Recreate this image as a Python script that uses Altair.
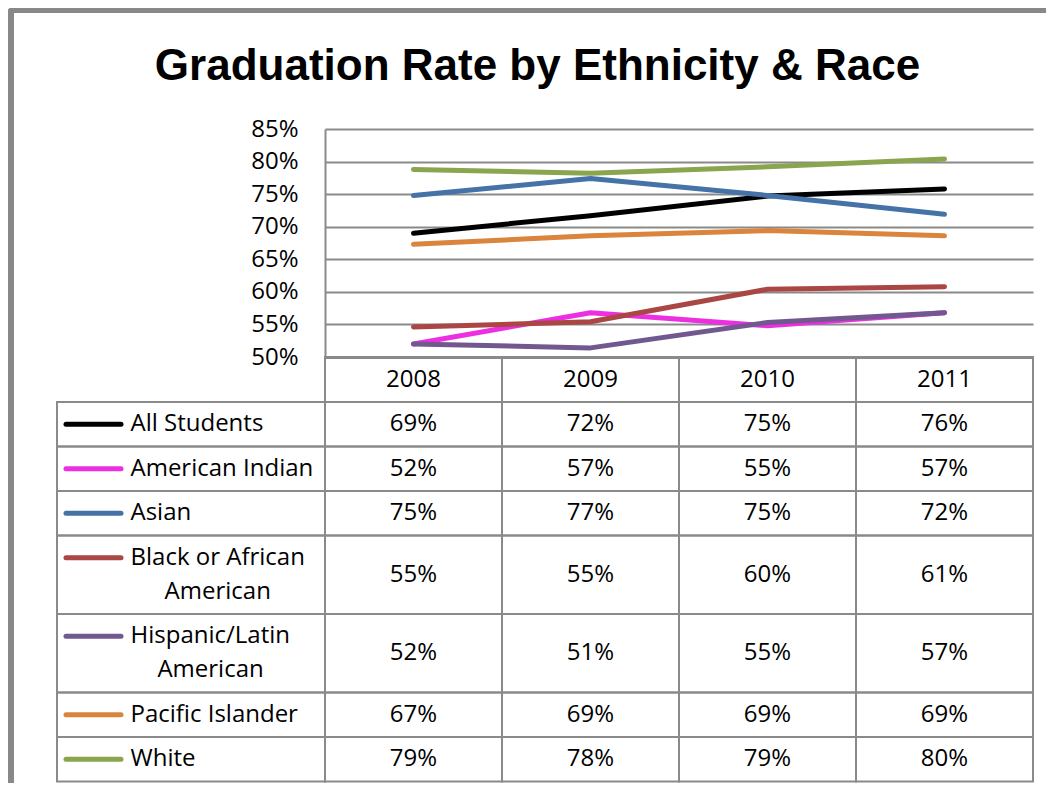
import altair as alt
import pandas as pd

# ---------------- data ----------------
TITLE = "Graduation Rate by Ethnicity & Race"
YEARS = ["2008", "2009", "2010", "2011"]
GROUPS = ["All Students", "American Indian", "Asian", "Black or African American",
          "Hispanic/Latin American", "Pacific Islander", "White"]
LABEL_LINES = [["All Students"], ["American Indian"], ["Asian"],
               ["Black or African", "American"], ["Hispanic/Latin", "American"],
               ["Pacific Islander"], ["White"]]
COLORS = ["#000000", "#EC2FE0", "#4572A7", "#AA4643", "#71588F", "#DB843D", "#89A54E"]

ALL_STUDENTS = [0.690, 0.717, 0.747, 0.758]
AMERICAN_INDIAN = [0.520, 0.568, 0.548, 0.568]
ASIAN = [0.748, 0.774, 0.748, 0.719]
BLACK = [0.546, 0.554, 0.604, 0.608]
HISPANIC = [0.520, 0.514, 0.553, 0.568]
PACIFIC = [0.673, 0.686, 0.694, 0.686]
WHITE = [0.788, 0.782, 0.792, 0.804]
SERIES = [ALL_STUDENTS, AMERICAN_INDIAN, ASIAN, BLACK, HISPANIC, PACIFIC, WHITE]
Y_TICKS = [0.50, 0.55, 0.60, 0.65, 0.70, 0.75, 0.80, 0.85]

# ---------------- layout / style ----------------
FONT = "Open Sans"
FS = 24
GRID = "#8a8a8a"
FRAME = "#888888"
PLOT_W, PLOT_H = 708, 228
LABEL_W = 268
HEADER_H = 45
LINE_H = 34
ROW_PAD = 10.5
TEXT_X = 73.5

OS_W = {" ": 532, "/": 752, "A": 1296, "B": 1327, "H": 1511, "L": 1124, "a": 1139,
        "b": 1255, "c": 975, "d": 1255, "e": 1149, "f": 694, "h": 1257, "i": 518,
        "k": 1075, "l": 518, "n": 1257, "o": 1237, "p": 1255, "r": 836, "s": 977,
        "t": 723}


def text_width(s, size):
    return sum(OS_W.get(ch, 1150) for ch in s) / 2048 * size


color_scale = alt.Scale(domain=GROUPS, range=COLORS)

# line data
line_rows = []
for g, vals in zip(GROUPS, SERIES):
    for yr, v in zip(YEARS, vals):
        line_rows.append({"group": g, "year": yr, "value": v})
line_df = pd.DataFrame(line_rows)

# table rows
rows = []
cont = []
y = HEADER_H
for g, lines in zip(GROUPS, LABEL_LINES):
    h = len(lines) * LINE_H + ROW_PAD
    ym = y + h / 2
    first_y = ym - (len(lines) - 1) * LINE_H / 2
    rows.append({"group": g, "y0": y, "y1": y + h, "ym": ym, "first": lines[0], "sy": first_y})
    for k, extra in enumerate(lines[1:], start=1):
        cont.append({"group": g, "text": extra, "cy": first_y + k * LINE_H,
                     "cx": TEXT_X + text_width(lines[0], FS) / 2})
    y += h
TABLE_H = y
rows_df = pd.DataFrame(rows)
cont_df = pd.DataFrame(cont)

header_df = pd.DataFrame([{"year": yr, "y0": 0, "y1": HEADER_H, "ym": HEADER_H / 2} for yr in YEARS])
value_rows = []
for r, vals in zip(rows, SERIES):
    for yr, v in zip(YEARS, vals):
        value_rows.append({"group": r["group"], "year": yr, "value": v,
                           "y0": r["y0"], "y1": r["y1"], "ym": r["ym"]})
value_df = pd.DataFrame(value_rows)
cells_df = pd.concat([header_df, value_df[["year", "y0", "y1", "ym"]]], ignore_index=True)

# ---------------- panel A: frame (decoration) ----------------
dummy = pd.DataFrame({"k": [0]})
frame_left = alt.Chart(dummy).mark_rect(color=FRAME, cornerRadiusTopLeft=4).encode(
    x=alt.value(-49), x2=alt.value(-43), y=alt.value(-121), y2=alt.value(654))
frame_top = alt.Chart(dummy).mark_rect(color=FRAME, cornerRadiusTopLeft=4).encode(
    x=alt.value(-49), x2=alt.value(989), y=alt.value(-121), y2=alt.value(-116))
panel_a = alt.layer(frame_left, frame_top).properties(width=LABEL_W, height=PLOT_H)

# ---------------- panel B: line chart ----------------
panel_b = alt.Chart(line_df).mark_line(strokeWidth=5, strokeCap="round", strokeJoin="round").encode(
    x=alt.X("year:O", scale=alt.Scale(type="point", domain=YEARS, padding=0.5),
            axis=alt.Axis(labels=False, ticks=False, title=None, grid=False,
                          domainColor=GRID, domainWidth=3)),
    y=alt.Y("value:Q", scale=alt.Scale(domain=[0.5, 0.85], nice=False, zero=False),
            axis=alt.Axis(values=Y_TICKS, format=".0%", grid=True, gridColor=GRID, gridWidth=2,
                          domainColor=GRID, domainWidth=2, ticks=False, labelFont=FONT,
                          labelFontSize=FS, labelColor="black", labelPadding=27, title=None)),
    color=alt.Color("group:N", scale=color_scale, legend=None),
).properties(
    width=PLOT_W, height=PLOT_H,
    title=alt.TitleParams(TITLE, font="Liberation Sans", fontSize=44, fontWeight="bold",
                          color="black", anchor="middle", frame="group", dx=-141.5,
                          offset=-7, baseline="alphabetic"),
)

# ---------------- panel C: label column ----------------
ysc = alt.Scale(domain=[0, TABLE_H], reverse=True, nice=False, zero=False)
xsc_c = alt.Scale(domain=[0, LABEL_W], nice=False, zero=False)

c_cells = alt.Chart(rows_df).mark_rect(fillOpacity=0, stroke=GRID, strokeWidth=2).encode(
    x=alt.XDatum(0, type="quantitative", scale=xsc_c, axis=None),
    x2=alt.X2Datum(LABEL_W),
    y=alt.Y("y0:Q", scale=ysc, axis=None), y2="y1:Q")
c_swatch = alt.Chart(rows_df).mark_rule(strokeWidth=5, strokeCap="round").encode(
    x=alt.XDatum(9, type="quantitative", scale=xsc_c, axis=None),
    x2=alt.X2Datum(64),
    y=alt.Y("sy:Q", scale=ysc, axis=None),
    color=alt.Color("group:N", scale=color_scale, legend=None))
c_text = alt.Chart(rows_df).mark_text(font=FONT, fontSize=FS, align="left", baseline="middle",
                                      color="black").encode(
    x=alt.XDatum(TEXT_X, type="quantitative", scale=xsc_c, axis=None),
    y=alt.Y("sy:Q", scale=ysc, axis=None), text="first:N")
c_cont = alt.Chart(cont_df).mark_text(font=FONT, fontSize=FS, align="center", baseline="middle",
                                      color="black").encode(
    x=alt.X("cx:Q", scale=xsc_c, axis=None),
    y=alt.Y("cy:Q", scale=ysc, axis=None), text="text:N")
panel_c = alt.layer(c_cells, c_swatch, c_text, c_cont).properties(width=LABEL_W, height=TABLE_H)

# ---------------- panel D: value table ----------------
xsc_d = alt.Scale(domain=YEARS, paddingInner=0, paddingOuter=0)
d_cells = alt.Chart(cells_df).mark_rect(fillOpacity=0, stroke=GRID, strokeWidth=2).encode(
    x=alt.X("year:N", scale=xsc_d, axis=None),
    y=alt.Y("y0:Q", scale=ysc, axis=None), y2="y1:Q")
d_head = alt.Chart(header_df).mark_text(font=FONT, fontSize=FS, baseline="middle", color="black").encode(
    x=alt.X("year:N", scale=xsc_d, axis=None),
    y=alt.Y("ym:Q", scale=ysc, axis=None), text="year:N")
d_vals = alt.Chart(value_df).mark_text(font=FONT, fontSize=FS, baseline="middle", color="black").encode(
    x=alt.X("year:N", scale=xsc_d, axis=None),
    y=alt.Y("ym:Q", scale=ysc, axis=None),
    text=alt.Text("value:Q", format=".0%"))
panel_d = alt.layer(d_cells, d_head, d_vals).properties(width=PLOT_W, height=TABLE_H)

chart = alt.concat(panel_a, panel_b, panel_c, panel_d, columns=2, spacing=0,
                   bounds="flush", align="each", padding=0,
                   background="white").configure_view(strokeWidth=0)

chart.save("out.html", embed_options={"renderer": "svg", "actions": False})
